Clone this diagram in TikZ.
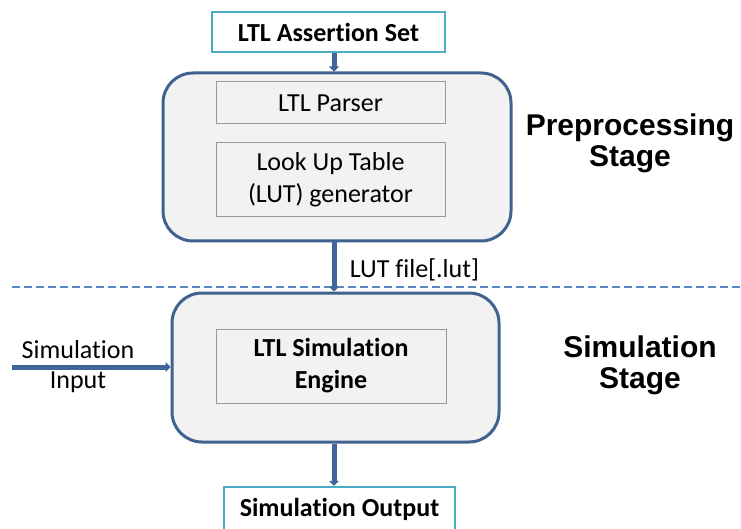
\documentclass[tikz,border=0pt]{standalone}
\usepackage{fontspec}
\setmainfont[Ligatures=NoCommon]{Carlito}
\newfontfamily\stagefont{Liberation Sans}
\usetikzlibrary{arrows.meta, positioning, calc}

\definecolor{flowblue}{HTML}{41659A}
\definecolor{stageedge}{HTML}{41628F}
\definecolor{dashblue}{HTML}{5A88C6}
\definecolor{tealedge}{HTML}{4BACC6}
\definecolor{stagefill}{HTML}{F2F2F2}

\tikzset{
  io/.style={draw=tealedge, line width=2.5pt, fill=white, font=\fontsize{26}{30}\selectfont\bfseries, inner sep=0pt},
  stagebox/.style={draw=stageedge, line width=3pt, fill=stagefill, rounded corners=30pt, inner sep=0pt},
  unit/.style={draw=gray!80, line width=1pt, fill=stagefill, align=center, font=\fontsize{26}{32}\selectfont, inner sep=0pt},
  flow/.style={draw=flowblue, line width=5pt, -{Triangle[width=10pt,length=5pt]}},
  stagelabel/.style={align=center, font=\fontsize{30}{31}\selectfont\stagefont\bfseries}
}

\begin{document}
\begin{tikzpicture}[x=1pt, y=-1pt]
\useasboundingbox (0,0) rectangle (741,529);
% main axis of the flow
\coordinate (axis) at (334,0);

% preprocessing stage
\node[io, minimum width=233pt, minimum height=40pt] (assert) at (328.5,32) {LTL Assertion Set};
\node[stagebox, minimum width=348pt, minimum height=168pt] (pre) at (337,157) {};
\node[unit, minimum width=229pt, minimum height=42pt] (parser) at (330.5,103) {LTL Parser};
\node[unit, minimum width=229pt, minimum height=74pt] (lutgen) at (330.5,180) {Look Up Table\\(LUT) generator};

% stage border
\draw[dashblue, line width=2pt, dash pattern=on 8pt off 4pt] (12,287) -- (741,287);

% simulation stage
\node[stagebox, minimum width=327pt, minimum height=149pt] (sim) at (335.5,367.5) {};
\node[unit, font=\fontsize{26}{32}\selectfont\bfseries, minimum width=230pt, minimum height=74pt] (engine) at (331,366) {LTL Simulation\\Engine};
\node[io, minimum width=231pt, minimum height=44pt] (output) at (339.5,509) {Simulation Output};

% connectors
\draw[flow] (assert.south -| axis) -- (pre.north -| axis);
\draw[flow] (pre.south -| axis) -- node[right, xshift=10pt, yshift=-3pt, font=\fontsize{26}{30}\selectfont] {LUT file[.lut]} (sim.north -| axis);
\draw[flow] (sim.south -| axis) -- (output.north -| axis);
\coordinate (inp) at (12,367);
\draw[flow] (inp) -- (inp -| sim.west);
\node[font=\fontsize{26}{30}\selectfont] at (78,350) {Simulation};
\node[font=\fontsize{26}{30}\selectfont] at (78,382) {Input};

% stage labels
\node[stagelabel] (prelabel) at (630,143) {Preprocessing\\Stage};
\node[stagelabel] (simlabel) at (640,365) {Simulation\\Stage};
\end{tikzpicture}
\end{document}
